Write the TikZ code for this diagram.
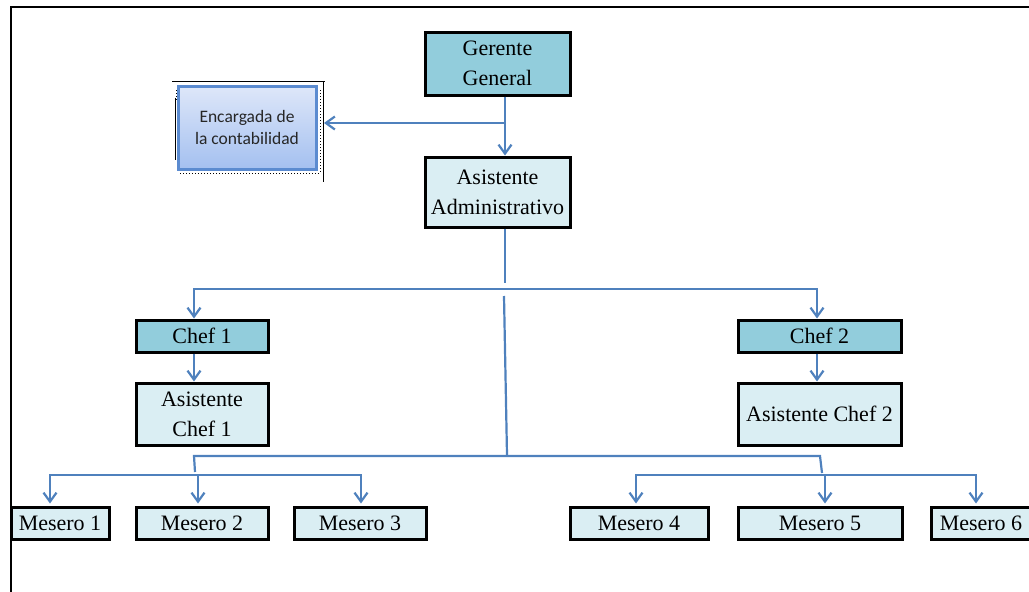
\documentclass[tikz,border=0pt]{standalone}
\usepackage{fontspec}
\setmainfont{Liberation Serif}
\newfontfamily\calib{Carlito}
\usetikzlibrary{arrows.meta,calc}
\definecolor{tealA}{HTML}{92CDDC}
\definecolor{liteA}{HTML}{DAEEF3}
\definecolor{connA}{HTML}{4F81BD}
\definecolor{encTop}{HTML}{DEE7F9}
\definecolor{encBot}{HTML}{A4C0F0}
\definecolor{encBorder}{HTML}{5B8BD0}
\begin{document}
\begin{tikzpicture}[x=1pt,y=-1pt,
  box/.style={draw=black,line width=3pt,inner sep=0pt,align=center,
    font=\fontsize{22}{30}\selectfont},
  dark/.style={box,fill=tealA},
  lite/.style={box,fill=liteA},
  link/.style={draw=connA,line width=2.2pt},
  arr/.style={link,-{Straight Barb[length=9pt,width=13pt]}},
  arrs/.style={link,{Straight Barb[length=9pt,width=13pt]}-{Straight Barb[length=9pt,width=13pt]}},
  encbox/.style={draw=encBorder,line width=3pt,inner sep=0pt,align=center,
    top color=encTop,bottom color=encBot,text=black!85,
    font=\calib\fontsize{17.5}{22}\selectfont},
]
\useasboundingbox (0,0) rectangle (1029,592);
% frame
\draw[line width=2pt] (11,592) -- (11,7) -- (1029,7);

% decorative outline around Encargada
\draw[line width=0.8pt] (172,81) -- (325,81);
\draw[line width=0.8pt] (323,81) -- (323,182);
\draw[line width=0.8pt] (175,98) -- (175,160);
\draw[line width=1pt,dotted] (320,90) -- (320,172);
\draw[line width=1pt,dotted] (180,173) -- (320,173);
\draw[line width=1pt,dotted] (176,90) -- (176,100);

% nodes
\node[dark,minimum width=145,minimum height=63] (gg) at (497.5,63.5) {Gerente\\General};
\node[lite,minimum width=145,minimum height=70] (aa) at (497.5,192) {Asistente\\Administrativo};
\node[encbox,minimum width=138,minimum height=83] (enc) at (247,127.5) {Encargada de\\la contabilidad};
\node[dark,minimum width=132,minimum height=32] (c1) at (202,336) {Chef 1};
\node[dark,minimum width=163,minimum height=32] (c2) at (819.5,336) {Chef 2};
\node[lite,minimum width=132,minimum height=62] (ac1) at (202,414) {Asistente\\Chef 1};
\node[lite,minimum width=163,minimum height=62] (ac2) at (819.5,414) {Asistente Chef 2};
\node[lite,minimum width=98,minimum height=32] (m1) at (60,523) {Mesero 1};
\node[lite,minimum width=132,minimum height=32] (m2) at (202,523) {Mesero 2};
\node[lite,minimum width=132,minimum height=32] (m3) at (360,523) {Mesero 3};
\node[lite,minimum width=138,minimum height=32] (m4) at (639,523) {Mesero 4};
\node[lite,minimum width=164,minimum height=32] (m5) at (820,523) {Mesero 5};
\node[lite,minimum width=100,minimum height=32] (m6) at (981,523) {Mesero 6};

% junction coordinates
\coordinate (j1) at (505,123);
\coordinate (encR) at (324,123);
\coordinate (v1) at (505,283);
\coordinate (b1L) at (194,289);
\coordinate (b1R) at (817,289);
\coordinate (v2a) at (504,296);
\coordinate (v2b) at (507,455);
\coordinate (hL) at (194,456);
\coordinate (hR) at (820,456);
\coordinate (hLd) at (195,472);
\coordinate (hRd) at (822,473);
\coordinate (lL) at (50,475);
\coordinate (lM) at (198,475);
\coordinate (lR) at (361,475);
\coordinate (rL) at (636,475);
\coordinate (rM) at (825,475);
\coordinate (rR) at (976,475);

% connectors
\draw[arr] (gg.south -| j1) -- (aa.north -| j1);
\draw[arr] (j1) -- (encR);
\draw[link] (aa.south -| j1) -- (v1);
\draw[arrs] (c1.north -| b1L) -- (b1L) -- (b1R) -- (c2.north -| b1R);
\draw[arr] (c1.south -| b1L) -- (ac1.north -| b1L);
\draw[arr] (c2.south -| b1R) -- (ac2.north -| b1R);
\draw[link] (v2a) -- (v2b);
\draw[link] (hLd) -- (hL) -- (hR) -- (hRd);
\draw[arrs] ([yshift=2pt]m1.north -| lL) -- (lL) -- (lR) -- ([yshift=2pt]m3.north -| lR);
\draw[arr] (lM) -- ([yshift=2pt]m2.north -| lM);
\draw[arrs] ([yshift=2pt]m4.north -| rL) -- (rL) -- (rR) -- ([yshift=2pt]m6.north -| rR);
\draw[arr] (rM) -- ([yshift=2pt]m5.north -| rM);
\end{tikzpicture}
\end{document}
